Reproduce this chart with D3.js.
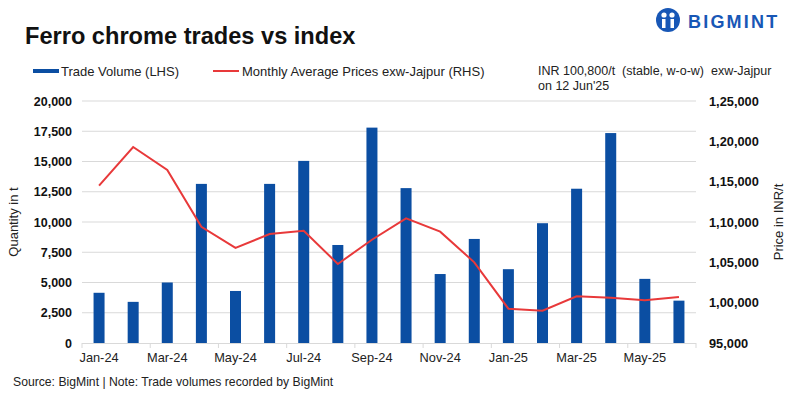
<!DOCTYPE html>
<html>
<head>
<meta charset="utf-8">
<script src="https://cdn.jsdelivr.net/npm/d3@7"></script>
<style>
  body { margin: 0; background: #fff; }
  svg { display: block; font-family: "Liberation Sans", Arial, sans-serif; }
</style>
</head>
<body>
<svg id="chart" width="800" height="399"></svg>
<script>
// ---- data ----
var months = ["Jan-24","Feb-24","Mar-24","Apr-24","May-24","Jun-24","Jul-24","Aug-24","Sep-24",
              "Oct-24","Nov-24","Dec-24","Jan-25","Feb-25","Mar-25","Apr-25","May-25","Jun-25"];
var tradeVolume = [4150, 3400, 5000, 13150, 4300, 13150, 15050, 8100, 17800,
                   12800, 5700, 8600, 6100, 9900, 12750, 17350, 5300, 3500];
var avgPrice = [114500, 119300, 116450, 109400, 106800, 108500, 108900, 104800, 107800,
                110450, 108800, 105000, 99250, 99000, 100800, 100600, 100300, 100700];
var leftTicks = [0, 2500, 5000, 7500, 10000, 12500, 15000, 17500, 20000];
var rightTicks = [95000, 100000, 105000, 110000, 115000, 120000, 125000];

var svg = d3.select("#chart");

var plot = { left: 82, right: 696, top: 101, bottom: 343 };

// indian style grouping: 1,25,000
var inrFormat = function(v){
  var s = String(v);
  if (s.length <= 3) return s;
  var last3 = s.slice(-3), rest = s.slice(0, -3);
  rest = rest.replace(/\B(?=(\d{2})+(?!\d))/g, ",");
  return rest + "," + last3;
};

var x = d3.scaleBand().domain(months).range([plot.left, plot.right]).padding(0);
var yL = d3.scaleLinear().domain([0, 20000]).range([plot.bottom, plot.top]);
var yR = d3.scaleLinear().domain([95000, 125000]).range([plot.bottom, plot.top]);

/* ---------- title ---------- */
svg.append("text").attr("x", 25).attr("y", 44)
  .attr("font-size", 23.6).attr("font-weight", "bold").attr("fill", "#111")
  .text("Ferro chrome trades vs index");

/* ---------- logo ---------- */
var logo = svg.append("g").attr("transform", "translate(668,20)");
logo.append("circle").attr("r", 12).attr("fill", "#1857b6");
logo.append("circle").attr("cx", -4).attr("cy", -5).attr("r", 2.6).attr("fill", "#fff");
logo.append("circle").attr("cx", 4).attr("cy", -5).attr("r", 2.6).attr("fill", "#fff");
logo.append("rect").attr("x", -6).attr("y", -1).attr("width", 3.5).attr("height", 9).attr("fill", "#fff");
logo.append("rect").attr("x", 2.5).attr("y", -1).attr("width", 3.5).attr("height", 9).attr("fill", "#fff");
svg.append("text").attr("x", 688).attr("y", 28)
  .attr("font-size", 18).attr("font-weight", "bold").attr("fill", "#1857b6")
  .attr("letter-spacing", 2.2).text("BIGMINT");

/* ---------- legend ---------- */
svg.append("rect").attr("x", 33).attr("y", 69).attr("width", 26).attr("height", 4).attr("fill", "#0b4ea2");
svg.append("text").attr("x", 61).attr("y", 76).attr("font-size", 13).attr("fill", "#222")
  .text("Trade Volume (LHS)");
svg.append("line").attr("x1", 213).attr("x2", 239).attr("y1", 71).attr("y2", 71)
  .attr("stroke", "#e8393a").attr("stroke-width", 2);
svg.append("text").attr("x", 242).attr("y", 76).attr("font-size", 13).attr("fill", "#222")
  .text("Monthly Average Prices exw-Jajpur (RHS)");
svg.append("text").attr("x", 538).attr("y", 75).attr("font-size", 12.5).attr("fill", "#222")
  .attr("xml:space", "preserve")
  .text("INR 100,800/t  (stable, w-o-w)  exw-Jajpur");
svg.append("text").attr("x", 538).attr("y", 89.5).attr("font-size", 12.5).attr("fill", "#222")
  .text("on 12 Jun'25");

/* ---------- grid ---------- */
svg.append("g").selectAll("line").data(leftTicks.slice(1)).join("line")
  .attr("x1", plot.left).attr("x2", plot.right)
  .attr("y1", function(d){ return yL(d); }).attr("y2", function(d){ return yL(d); })
  .attr("stroke", "#d9d9d9").attr("stroke-width", 1);

/* ---------- bars ---------- */
var barW = 11;
svg.append("g").selectAll("rect").data(months).join("rect")
  .attr("x", function(d){ return x(d) + x.bandwidth()/2 - barW/2; })
  .attr("y", function(d, i){ return yL(tradeVolume[i]); })
  .attr("width", barW)
  .attr("height", function(d, i){ return plot.bottom - yL(tradeVolume[i]); })
  .attr("fill", "#0b4ea2");

/* ---------- line ---------- */
var line = d3.line()
  .x(function(d, i){ return x(months[i]) + x.bandwidth()/2; })
  .y(function(d){ return yR(d); });
svg.append("path").datum(avgPrice).attr("d", line)
  .attr("fill", "none").attr("stroke", "#e8393a").attr("stroke-width", 2);

/* ---------- axes ---------- */
var leftAxis = svg.append("g").attr("transform", "translate(" + plot.left + ",0)")
  .call(d3.axisLeft(yL).tickValues(leftTicks).tickSize(0).tickPadding(10).tickFormat(d3.format(",")));
leftAxis.select(".domain").remove();
leftAxis.selectAll("text").attr("font-size", 12.5).attr("font-weight", "bold").attr("fill", "#111")
  .attr("font-family", "Liberation Sans, Arial, sans-serif");

var rightAxis = svg.append("g").attr("transform", "translate(" + plot.right + ",0)")
  .call(d3.axisRight(yR).tickValues(rightTicks).tickSize(0).tickPadding(13).tickFormat(inrFormat));
rightAxis.select(".domain").remove();
rightAxis.selectAll("text").attr("font-size", 12.8).attr("font-weight", "bold").attr("fill", "#111")
  .attr("font-family", "Liberation Sans, Arial, sans-serif");

// x axis: line + tick marks every 2 months at band edges
var xg = svg.append("g");
xg.append("line").attr("x1", plot.left).attr("x2", plot.right)
  .attr("y1", plot.bottom + 0.5).attr("y2", plot.bottom + 0.5).attr("stroke", "#d9d9d9");
var tickEdges = months.filter(function(d, i){ return i % 2 === 0; });
xg.selectAll(".tk").data(tickEdges).join("line").attr("class", "tk")
  .attr("x1", function(d){ return x(d); }).attr("x2", function(d){ return x(d); })
  .attr("y1", plot.bottom).attr("y2", plot.bottom + 5).attr("stroke", "#d9d9d9");
xg.append("line").attr("x1", plot.right).attr("x2", plot.right)
  .attr("y1", plot.bottom).attr("y2", plot.bottom + 5).attr("stroke", "#d9d9d9");
xg.selectAll(".lb").data(tickEdges).join("text").attr("class", "lb")
  .attr("x", function(d){ return x(d) + x.bandwidth()/2; })
  .attr("y", 362).attr("text-anchor", "middle")
  .attr("font-size", 12.8).attr("fill", "#222")
  .text(function(d){ return d; });

/* ---------- axis titles ---------- */
svg.append("text").attr("transform", "translate(18,222) rotate(-90)")
  .attr("text-anchor", "middle").attr("font-size", 13).attr("fill", "#222")
  .text("Quantity in t");
svg.append("text").attr("transform", "translate(783,222) rotate(-90)")
  .attr("text-anchor", "middle").attr("font-size", 13).attr("fill", "#222")
  .text("Price in INR/t");

/* ---------- footer ---------- */
svg.append("text").attr("x", 13).attr("y", 386).attr("font-size", 12.2).attr("fill", "#222")
  .text("Source: BigMint | Note: Trade volumes recorded by BigMint");
</script>
</body>
</html>
